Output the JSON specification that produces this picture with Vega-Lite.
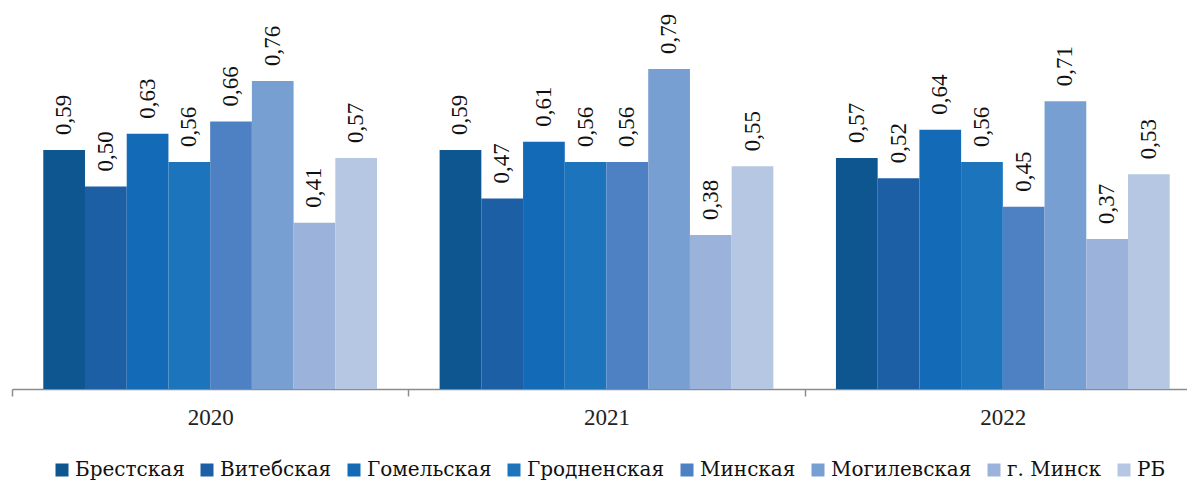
{
  "$schema": "https://vega.github.io/schema/vega-lite/v6.json",
  "width": 1175,
  "height": 389,
  "autosize": {"type": "none"},
  "padding": {"left": 12, "top": 0, "right": 0, "bottom": 92},
  "config": {
    "view": {"stroke": null},
    "font": "Liberation Serif",
    "locale": {"number": {"decimal": ",", "thousands": " ", "grouping": [3], "currency": ["", ""]}}
  },
  "data": {
    "values": [
      {"year": "2020", "region": "Брестская", "value": 0.59},
      {"year": "2020", "region": "Витебская", "value": 0.50},
      {"year": "2020", "region": "Гомельская", "value": 0.63},
      {"year": "2020", "region": "Гродненская", "value": 0.56},
      {"year": "2020", "region": "Минская", "value": 0.66},
      {"year": "2020", "region": "Могилевская", "value": 0.76},
      {"year": "2020", "region": "г. Минск", "value": 0.41},
      {"year": "2020", "region": "РБ", "value": 0.57},
      {"year": "2021", "region": "Брестская", "value": 0.59},
      {"year": "2021", "region": "Витебская", "value": 0.47},
      {"year": "2021", "region": "Гомельская", "value": 0.61},
      {"year": "2021", "region": "Гродненская", "value": 0.56},
      {"year": "2021", "region": "Минская", "value": 0.56},
      {"year": "2021", "region": "Могилевская", "value": 0.79},
      {"year": "2021", "region": "г. Минск", "value": 0.38},
      {"year": "2021", "region": "РБ", "value": 0.55},
      {"year": "2022", "region": "Брестская", "value": 0.57},
      {"year": "2022", "region": "Витебская", "value": 0.52},
      {"year": "2022", "region": "Гомельская", "value": 0.64},
      {"year": "2022", "region": "Гродненская", "value": 0.56},
      {"year": "2022", "region": "Минская", "value": 0.45},
      {"year": "2022", "region": "Могилевская", "value": 0.71},
      {"year": "2022", "region": "г. Минск", "value": 0.37},
      {"year": "2022", "region": "РБ", "value": 0.53}
    ]
  },
  "encoding": {
    "x": {
      "field": "year", "type": "nominal",
      "scale": {"range": [0, 1189], "paddingInner": 0, "paddingOuter": 0},
      "axis": {
        "title": null, "labelAngle": 0, "labelFontSize": 23, "labelColor": "#222",
        "labelFont": "Liberation Serif", "labelPadding": 10,
        "domainColor": "#8c8c8c", "tickColor": "#8c8c8c", "tickSize": 7,
        "tickBand": "extent", "domainWidth": 1.5, "tickWidth": 1.5
      }
    },
    "xOffset": {
      "field": "region", "type": "nominal", "sort": null,
      "scale": {"paddingInner": 0, "paddingOuter": 0.75}
    },
    "y": {
      "field": "value", "type": "quantitative",
      "scale": {"domain": [0, 0.96], "nice": false},
      "axis": null
    }
  },
  "layer": [
    {
      "mark": {"type": "bar"},
      "encoding": {
        "color": {
          "field": "region", "type": "nominal", "sort": null,
          "scale": {
            "domain": ["Брестская", "Витебская", "Гомельская", "Гродненская", "Минская", "Могилевская", "г. Минск", "РБ"],
            "range": ["#0D568F", "#1C5FA5", "#136BB8", "#1B74BC", "#4E81C3", "#789FD1", "#9BB3DA", "#B5C7E2"]
          },
          "legend": {
            "title": null, "orient": "none", "direction": "horizontal", "columns": 8,
            "legendX": 40, "legendY": 460,
            "symbolType": "square", "symbolSize": 169, "symbolStrokeWidth": 0,
            "labelFontSize": 20, "labelFont": "DejaVu Serif", "labelColor": "#111",
            "labelOffset": 3, "columnPadding": 12, "labelLimit": 300
          }
        }
      }
    },
    {
      "mark": {"type": "text", "angle": -90, "align": "left", "baseline": "middle", "dx": 15, "fontSize": 23, "font": "Liberation Serif", "color": "#111"},
      "encoding": {
        "text": {"field": "value", "type": "quantitative", "format": ".2f"}
      }
    }
  ]
}
